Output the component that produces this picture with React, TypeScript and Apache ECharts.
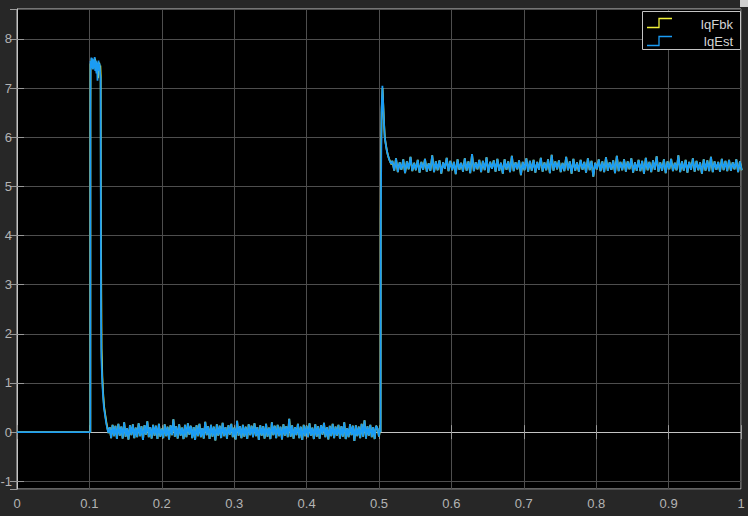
import React, { useEffect, useRef } from "react";
import * as echarts from "echarts";

// ---- data ----
const SERIES_NAMES = ["IqFbk", "IqEst"];
const X_TICKS = [0, 0.1, 0.2, 0.3, 0.4, 0.5, 0.6, 0.7, 0.8, 0.9, 1];

// flat part before the first current step
const preStep: number[][] = [
  [0, 0],
  [0.1013, 0],
];

// first pulse (IqEst)
const estPulse: number[][] = [
  [0.1014, 6.5], [0.1016, 7.55], [0.1022, 7.4], [0.1028, 7.62], [0.1035, 7.45],
  [0.1042, 7.6], [0.1049, 7.38], [0.1057, 7.58], [0.1065, 7.42], [0.1073, 7.63],
  [0.1081, 7.35], [0.1089, 7.56], [0.1097, 7.3], [0.1105, 7.52], [0.1112, 7.15],
  [0.1119, 7.45], [0.1126, 7.56], [0.1133, 7.35], [0.1141, 7.5], [0.1149, 7.28],
  [0.1155, 7.2], [0.1157, 5.2], [0.1160, 2.5], [0.1166, 1.5], [0.1176, 1.1],
  [0.1186, 0.8], [0.1201, 0.5], [0.1216, 0.35], [0.1231, 0.2], [0.1246, 0.08],
  [0.1262, -0.02],
];

// first pulse (IqFbk), nearly identical, slightly lagging on the falling edge
const fbkPulse: number[][] = [
  [0.1014, 6.4], [0.1016, 7.5], [0.1024, 7.42], [0.1031, 7.6], [0.1039, 7.44],
  [0.1047, 7.58], [0.1055, 7.4], [0.1063, 7.57], [0.1071, 7.43], [0.1079, 7.6],
  [0.1087, 7.37], [0.1095, 7.54], [0.1103, 7.32], [0.1111, 7.5], [0.1119, 7.2],
  [0.1127, 7.47], [0.1135, 7.52], [0.1143, 7.36], [0.1151, 7.46], [0.1156, 7.25],
  [0.1158, 5.1], [0.1163, 3.0], [0.1168, 1.7], [0.1178, 1.15], [0.1188, 0.82],
  [0.1203, 0.52], [0.1218, 0.36], [0.1233, 0.21], [0.1248, 0.09], [0.1263, -0.02],
];

// noisy low level between the two steps (sampled every 2 ms from 0.128 s)
const LOW_T0 = 0.128;
const LOW_DT = 0.002;
const lowNoise: number[] = [
  0.10, -0.12, 0.15, -0.08, 0.13, -0.14, 0.17, -0.07, 0.11, -0.13, 0.20, -0.09, 0.08, -0.15, 0.14, -0.06, 0.16, -0.12, 0.09, -0.10,
  0.18, -0.08, 0.12, -0.16, 0.14, -0.05, 0.22, -0.10, 0.10, -0.13, 0.15, -0.07, 0.13, -0.14, 0.17, -0.09, 0.07, -0.12, 0.16, -0.08,
  0.11, -0.15, 0.14, -0.06, 0.26, -0.09, 0.12, -0.13, 0.16, -0.07, 0.09, -0.14, 0.15, -0.10, 0.18, -0.05, 0.13, -0.12, 0.10, -0.16,
  0.14, -0.08, 0.17, -0.10, 0.08, -0.13, 0.21, -0.06, 0.12, -0.14, 0.15, -0.09, 0.11, -0.17, 0.16, -0.07, 0.13, -0.12, 0.19, -0.08,
  0.10, -0.13, 0.14, -0.05, 0.17, -0.10, 0.09, -0.15, 0.23, -0.07, 0.12, -0.12, 0.15, -0.09, 0.11, -0.14, 0.16, -0.06, 0.13, -0.10,
  0.18, -0.08, 0.10, -0.16, 0.14, -0.07, 0.12, -0.13, 0.17, -0.09, 0.09, -0.14, 0.20, -0.06, 0.13, -0.12, 0.15, -0.08, 0.11, -0.15,
  0.16, -0.07, 0.12, -0.10, 0.27, -0.09, 0.14, -0.13, 0.10, -0.06, 0.17, -0.12, 0.11, -0.16, 0.15, -0.08, 0.13, -0.10, 0.18, -0.07,
  0.09, -0.14, 0.16, -0.09, 0.12, -0.13, 0.14, -0.05, 0.19, -0.10, 0.10, -0.15, 0.13, -0.08, 0.17, -0.12, 0.11, -0.07, 0.15, -0.13,
  0.12, -0.09, 0.20, -0.14, 0.08, -0.10, 0.16, -0.06, 0.13, -0.18, 0.14, -0.08, 0.11, -0.12, 0.17, -0.09, 0.24, -0.13, 0.12, -0.07,
  0.15, -0.10, 0.10, -0.14, 0.13, 0.07, -0.09, 0.12,
];

// second step (IqEst): overshoot then settle
const estStep: number[][] = [
  [0.5022, 0.0], [0.5025, 4.3], [0.5035, 6.5], [0.5047, 7.05], [0.5057, 6.7],
  [0.5067, 6.35], [0.5079, 6.0], [0.5094, 5.85], [0.5109, 5.72], [0.5124, 5.63],
  [0.5139, 5.56], [0.5154, 5.5], [0.5169, 5.46],
];

// second step (IqFbk)
const fbkStep: number[][] = [
  [0.5022, 0.0], [0.5024, 4.3], [0.5028, 5.7], [0.5038, 6.6], [0.5049, 7.0],
  [0.5059, 6.65], [0.5069, 6.3], [0.5081, 5.98], [0.5096, 5.84], [0.5111, 5.71],
  [0.5126, 5.62], [0.5141, 5.55], [0.5156, 5.5], [0.5171, 5.45],
];

// noisy high level after the second step (sampled every 2.5 ms from 0.5185 s)
const HIGH_T0 = 0.5185;
const HIGH_DT = 0.0025;
const highNoise: number[] = [
  5.52, 5.32, 5.57, 5.29, 5.49, 5.34, 5.55, 5.27, 5.51, 5.35, 5.60, 5.31, 5.48, 5.33, 5.54, 5.28, 5.50, 5.34, 5.56, 5.30,
  5.47, 5.32, 5.63, 5.29, 5.51, 5.33, 5.53, 5.26, 5.49, 5.36, 5.58, 5.31, 5.52, 5.33, 5.50, 5.25, 5.55, 5.34, 5.48, 5.30,
  5.57, 5.32, 5.51, 5.27, 5.66, 5.31, 5.49, 5.35, 5.54, 5.29, 5.52, 5.33, 5.59, 5.28, 5.50, 5.36, 5.53, 5.30, 5.56, 5.32,
  5.48, 5.26, 5.55, 5.34, 5.51, 5.29, 5.62, 5.31, 5.49, 5.35, 5.53, 5.23, 5.50, 5.33, 5.57, 5.30, 5.52, 5.32, 5.54, 5.28,
  5.50, 5.34, 5.58, 5.30, 5.49, 5.33, 5.55, 5.27, 5.64, 5.32, 5.51, 5.35, 5.53, 5.29, 5.48, 5.31, 5.60, 5.33, 5.51, 5.26,
  5.56, 5.32, 5.49, 5.30, 5.54, 5.34, 5.50, 5.28, 5.57, 5.33, 5.52, 5.20, 5.48, 5.35, 5.55, 5.31, 5.51, 5.29, 5.59, 5.32,
  5.49, 5.34, 5.53, 5.27, 5.62, 5.31, 5.50, 5.33, 5.55, 5.30, 5.51, 5.35, 5.57, 5.28, 5.49, 5.32, 5.54, 5.31, 5.52, 5.26,
  5.58, 5.33, 5.50, 5.29, 5.53, 5.34, 5.61, 5.30, 5.49, 5.32, 5.55, 5.27, 5.51, 5.35, 5.56, 5.31, 5.48, 5.33, 5.63, 5.29,
  5.51, 5.32, 5.54, 5.28, 5.50, 5.34, 5.57, 5.30, 5.52, 5.33, 5.49, 5.26, 5.55, 5.32, 5.53, 5.31, 5.60, 5.29, 5.51, 5.34,
  5.50, 5.30, 5.56, 5.33, 5.52, 5.31, 5.54, 5.32, 5.49, 5.35, 5.55, 5.29, 5.51, 5.33,
];

const Y_MIN = -1.157;
const Y_MAX = 8.61;

// ---- styles ----
const BG = "#272727";
const TEXT = "#b4b4b4";
const BORDER = "#c4c4c4";
const GRID_LINE = "#4e4e4e";
const YELLOW = "#f2f23a";
const BLUE = "#1a9cf5";

function buildSeries(pulse: number[][], step: number[][]): number[][] {
  const low = lowNoise.map((v, i) => [LOW_T0 + i * LOW_DT, v]);
  const high = highNoise.map((v, i) => [HIGH_T0 + i * HIGH_DT, v]);
  return [...preStep, ...pulse, ...low, ...step, ...high];
}

export default function App() {
  const ref = useRef<HTMLDivElement>(null);

  useEffect(() => {
    document.body.style.margin = "0";
    document.body.style.background = BG;
    if (!ref.current) return;
    const chart = echarts.init(ref.current, undefined, { renderer: "svg" });

    const fbk = buildSeries(fbkPulse, fbkStep);
    const est = buildSeries(estPulse, estStep);

    const tickStyle = { show: true, inside: true, length: 7, lineStyle: { color: "#9a9a9a", width: 1 } };

    chart.setOption({
      animation: false,
      backgroundColor: BG,
      textStyle: { fontFamily: "Liberation Sans, Arial, sans-serif" },
      grid: {
        left: 17,
        right: 7,
        top: 9,
        bottom: 27,
        containLabel: false,
        outerBoundsMode: "none",
        show: true,
        backgroundColor: "#000000",
        borderColor: BORDER,
        borderWidth: 1,
      },
      xAxis: [
        {
          type: "value",
          min: X_TICKS[0],
          max: X_TICKS[X_TICKS.length - 1],
          interval: 0.1,
          axisLine: { show: true, lineStyle: { color: BORDER } },
          axisTick: tickStyle,
          axisLabel: { color: TEXT, fontSize: 13, margin: 8 },
          splitLine: { show: true, lineStyle: { color: GRID_LINE, width: 1 } },
        },
        {
          type: "value",
          position: "top",
          min: X_TICKS[0],
          max: X_TICKS[X_TICKS.length - 1],
          interval: 0.1,
          axisLine: { show: false },
          axisTick: tickStyle,
          axisLabel: { show: false },
          splitLine: { show: false },
        },
      ],
      yAxis: [
        {
          type: "value",
          min: Y_MIN,
          max: Y_MAX,
          splitNumber: 10,
          axisLine: { show: true, lineStyle: { color: BORDER } },
          axisTick: tickStyle,
          axisLabel: {
            color: TEXT,
            fontSize: 13,
            margin: 5,
            showMinLabel: false,
            showMaxLabel: false,
          },
          splitLine: { show: true, lineStyle: { color: GRID_LINE, width: 1 } },
        },
        {
          type: "value",
          position: "right",
          min: Y_MIN,
          max: Y_MAX,
          splitNumber: 10,
          axisLine: { show: false },
          axisTick: tickStyle,
          axisLabel: { show: false },
          splitLine: { show: false },
        },
      ],
      series: [
        {
          name: SERIES_NAMES[0],
          type: "line",
          data: fbk,
          showSymbol: false,
          symbol: "none",
          lineStyle: { color: YELLOW, width: 1.8 },
          itemStyle: { color: YELLOW },
          z: 2,
        },
        {
          name: SERIES_NAMES[1],
          type: "line",
          data: est,
          showSymbol: false,
          symbol: "none",
          lineStyle: { color: BLUE, width: 1.8 },
          itemStyle: { color: BLUE },
          z: 3,
        },
      ],
      graphic: [
        {
          type: "rect",
          shape: { x: 642.5, y: 11.5, width: 98, height: 38 },
          style: { fill: "#000000", stroke: BORDER, lineWidth: 1 },
          z: 100,
        },
        {
          type: "polyline",
          shape: { points: [[647, 27.5], [659, 27.5], [659, 18.5], [672, 18.5]] },
          style: { stroke: YELLOW, lineWidth: 1.3, fill: "none" },
          z: 101,
        },
        {
          type: "polyline",
          shape: { points: [[647, 45.5], [659, 45.5], [659, 36.5], [672, 36.5]] },
          style: { stroke: BLUE, lineWidth: 1.3, fill: "none" },
          z: 101,
        },
        {
          type: "text",
          x: 733,
          y: 24,
          style: {
            text: SERIES_NAMES[0],
            fill: "#d4d4d4",
            fontSize: 13,
            fontFamily: "Liberation Sans, Arial, sans-serif",
            textAlign: "right",
            textVerticalAlign: "middle",
          },
          z: 101,
        },
        {
          type: "text",
          x: 733,
          y: 41.5,
          style: {
            text: SERIES_NAMES[1],
            fill: "#d4d4d4",
            fontSize: 13,
            fontFamily: "Liberation Sans, Arial, sans-serif",
            textAlign: "right",
            textVerticalAlign: "middle",
          },
          z: 101,
        },
        {
          type: "rect",
          shape: { x: 740, y: 0, width: 8, height: 7 },
          style: { fill: "#cfcfcf" },
          z: 101,
        },
      ],
    });

    return () => chart.dispose();
  }, []);

  return (
    <div
      ref={ref}
      style={{ position: "absolute", left: 0, top: 0, width: 748, height: 516 }}
    />
  );
}
